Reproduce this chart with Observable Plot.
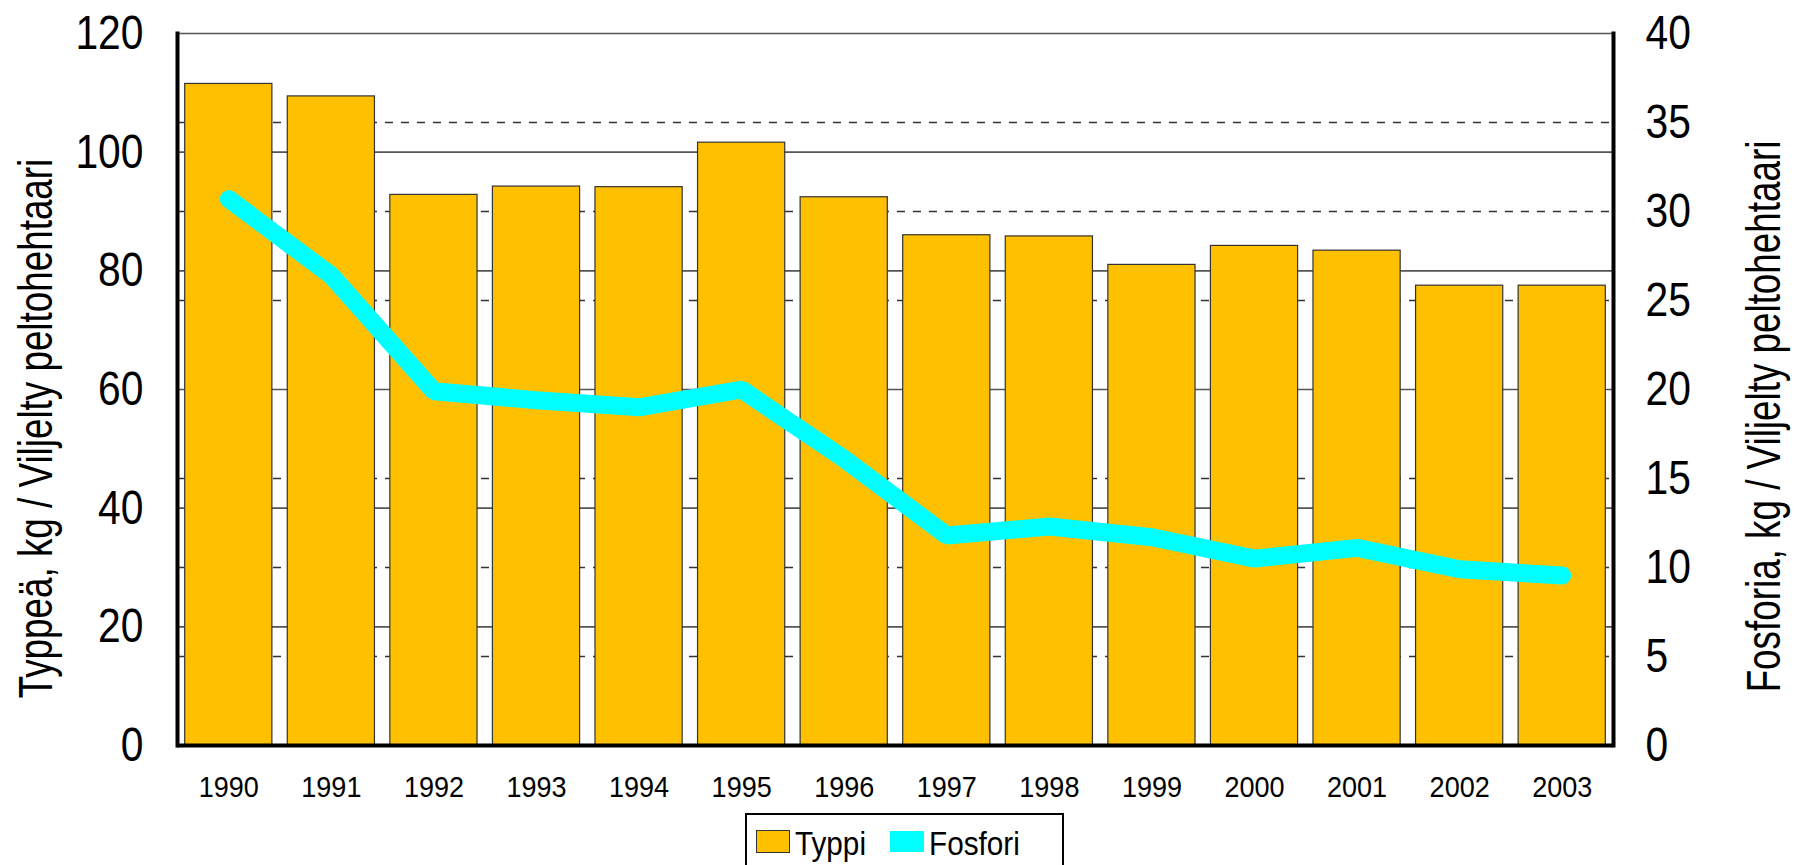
<!DOCTYPE html>
<html>
<head>
<meta charset="utf-8">
<script src="https://cdn.jsdelivr.net/npm/d3@7"></script>
<script src="https://cdn.jsdelivr.net/npm/@observablehq/plot@0.6"></script>
<style>
  html, body { margin: 0; padding: 0; background: #fff; overflow: hidden; }
  body { width: 1794px; height: 865px; position: relative; font-family: "Liberation Sans", Arial, sans-serif; }
  #chart svg { display: block; }
  #legend { position: absolute; left: 745px; top: 813px; width: 319px; height: 70px; border: 2.5px solid #000; box-sizing: border-box; background: #fff; }
  .sw { position: absolute; }
  .lt { position: absolute; font-size: 33px; line-height: 1; color: #000; transform: scaleX(0.9); transform-origin: left center; white-space: nowrap; }
</style>
</head>
<body>
<div id="chart"></div>
<div id="legend">
  <div class="sw" style="left:9px; top:15px; width:32px; height:21px; background:#FFC000; border:1px solid #333;"></div>
  <div class="lt" style="left:48px; top:12px;">Typpi</div>
  <div class="sw" style="left:143px; top:16px; width:34px; height:21px; background:#00FFFF;"></div>
  <div class="lt" style="left:182px; top:12px;">Fosfori</div>
</div>
<script>
const years = ["1990","1991","1992","1993","1994","1995","1996","1997","1998","1999","2000","2001","2002","2003"];
const typpi = [111.5, 109.4, 92.8, 94.2, 94.1, 101.6, 92.4, 86.0, 85.8, 81.0, 84.2, 83.4, 77.5, 77.5];
const fosfori = [30.7, 26.4, 19.9, 19.4, 19.0, 20.0, 16.1, 11.8, 12.3, 11.7, 10.5, 11.1, 9.9, 9.55];
const leftTicks = [0, 20, 40, 60, 80, 100, 120];
const rightTicks = [0, 5, 10, 15, 20, 25, 30, 35, 40];
const leftTitle = "Typpeä, kg / Viljelty peltohehtaari";
const rightTitle = "Fosforia, kg / Viljelty peltohehtaari";

const ratio = 3; // left axis max 120 / right axis max 40
const data = years.map((y, i) => ({year: y, typpi: typpi[i], fosfori: fosfori[i]}));
const solidGrid = leftTicks.filter(v => v > 0 && v < 120);
const dashedGrid = rightTicks.map(v => v * ratio).filter(v => v > 0 && v < 120 && !solidGrid.includes(v));

const plot = Plot.plot({
  width: 1794,
  height: 805,
  marginLeft: 177,
  marginRight: 181,
  marginTop: 33,
  marginBottom: 60,
  style: {fontFamily: '"Liberation Sans", Arial, sans-serif', background: "#fff", overflow: "visible"},
  x: {type: "band", domain: years, paddingInner: 0.15, paddingOuter: 0.075, round: false, label: null},
  y: {domain: [0, 120], label: null},
  marks: [
    Plot.ruleY(dashedGrid, {stroke: "#333", strokeWidth: 1.5, strokeDasharray: "8,8"}),
    Plot.ruleY(solidGrid, {stroke: "#555", strokeWidth: 1.6}),
    Plot.ruleY([120], {stroke: "#555", strokeWidth: 1.5}),
    Plot.barY(data, {x: "year", y: "typpi", fill: "#FFC000", stroke: "#333", strokeWidth: 1.2}),
    Plot.line(data, {x: "year", y: d => d.fosfori * ratio, stroke: "#00FFFF", strokeWidth: 18, strokeLinecap: "round", strokeLinejoin: "miter"}),
    Plot.ruleY([0], {stroke: "#000", strokeWidth: 4}),
    Plot.frame({anchor: "left", stroke: "#000", strokeWidth: 4}),
    Plot.frame({anchor: "right", stroke: "#000", strokeWidth: 4}),
    Plot.axisY({anchor: "left", ticks: leftTicks, tickSize: 0, tickPadding: 34, fontSize: 48, label: null}),
    Plot.axisY({anchor: "right", ticks: rightTicks.map(v => v * ratio), tickFormat: d => String(d / ratio), tickSize: 0, tickPadding: 32, fontSize: 48, label: null}),
    Plot.axisX({tickSize: 0, tickPadding: 30, fontSize: 30, label: null}),
    Plot.text([leftTitle], {text: d => d, frameAnchor: "left", textAnchor: "middle", dx: -141, dy: 39, rotate: -90, fontSize: 48, lineAnchor: "middle"}),
    Plot.text([rightTitle], {text: d => d, frameAnchor: "right", textAnchor: "middle", dx: 151, dy: 27, rotate: -90, fontSize: 48, lineAnchor: "middle"})
  ]
});
document.getElementById("chart").appendChild(plot);

// condense glyphs horizontally to match the narrow look of the original
plot.querySelectorAll("text").forEach(t => {
  if (t.querySelector("tspan")) return;
  const tr = t.getAttribute("transform") || "";
  if (tr.includes("rotate")) {
    t.setAttribute("transform", tr + " scale(0.767,1)");
    return;
  }
  const label = (t.parentNode && t.parentNode.getAttribute("aria-label")) || "";
  const k = label.startsWith("x-axis") ? 0.9 : 0.85;
  const w = t.getComputedTextLength();
  if (w > 0) {
    t.setAttribute("textLength", (w * k).toFixed(2));
    t.setAttribute("lengthAdjust", "spacingAndGlyphs");
  }
});
</script>
</body>
</html>
